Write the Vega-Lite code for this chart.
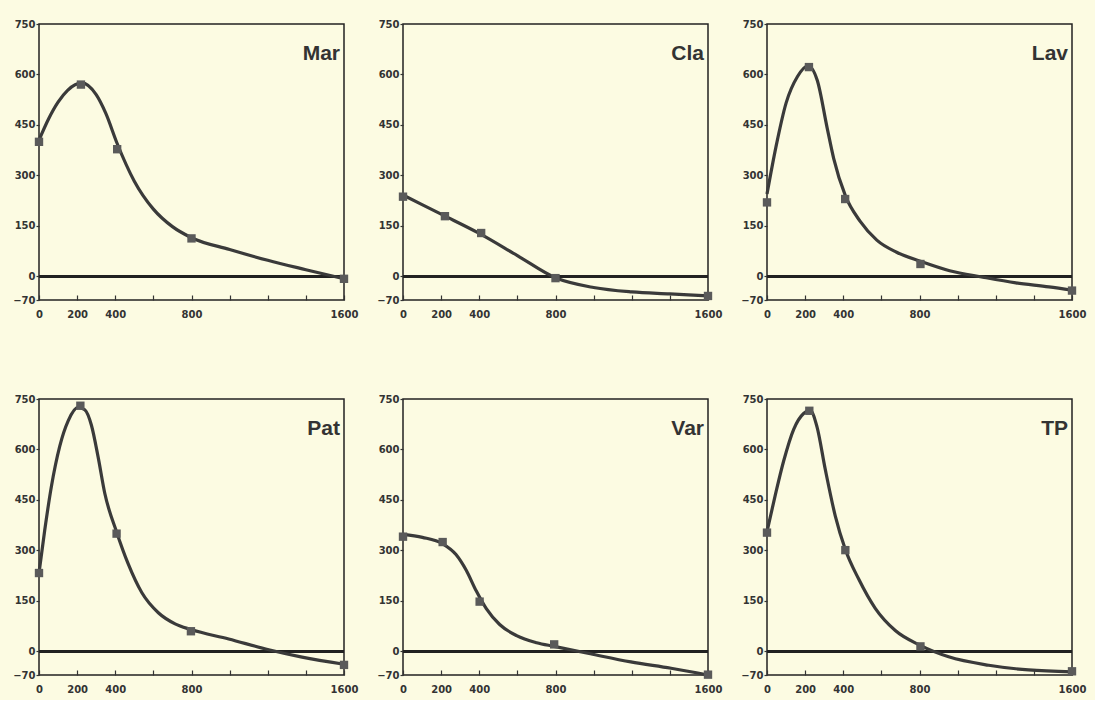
{
  "$schema": "https://vega.github.io/schema/vega-lite/v6.json",
  "background": "#fcfbe2",
  "padding": {"left": 11, "top": 18, "right": 10, "bottom": 5},
  "data": {
    "values": [
      {"panel": "Mar", "kind": "point", "dose": 0, "value": 400},
      {"panel": "Mar", "kind": "point", "dose": 220, "value": 570},
      {"panel": "Mar", "kind": "point", "dose": 410, "value": 378},
      {"panel": "Mar", "kind": "point", "dose": 800, "value": 113},
      {"panel": "Mar", "kind": "point", "dose": 1600, "value": -7},
      {"panel": "Cla", "kind": "point", "dose": 0, "value": 237},
      {"panel": "Cla", "kind": "point", "dose": 220, "value": 179},
      {"panel": "Cla", "kind": "point", "dose": 410, "value": 129},
      {"panel": "Cla", "kind": "point", "dose": 800, "value": -5},
      {"panel": "Cla", "kind": "point", "dose": 1600, "value": -58},
      {"panel": "Lav", "kind": "point", "dose": 0, "value": 220},
      {"panel": "Lav", "kind": "point", "dose": 220, "value": 622},
      {"panel": "Lav", "kind": "point", "dose": 410, "value": 230},
      {"panel": "Lav", "kind": "point", "dose": 805, "value": 37},
      {"panel": "Lav", "kind": "point", "dose": 1600, "value": -42},
      {"panel": "Pat", "kind": "point", "dose": 0, "value": 233},
      {"panel": "Pat", "kind": "point", "dose": 217, "value": 730},
      {"panel": "Pat", "kind": "point", "dose": 407, "value": 350},
      {"panel": "Pat", "kind": "point", "dose": 797, "value": 60},
      {"panel": "Pat", "kind": "point", "dose": 1600, "value": -40},
      {"panel": "Var", "kind": "point", "dose": 0, "value": 341},
      {"panel": "Var", "kind": "point", "dose": 208, "value": 325},
      {"panel": "Var", "kind": "point", "dose": 402, "value": 148},
      {"panel": "Var", "kind": "point", "dose": 793, "value": 21},
      {"panel": "Var", "kind": "point", "dose": 1600, "value": -69},
      {"panel": "TP", "kind": "point", "dose": 0, "value": 353},
      {"panel": "TP", "kind": "point", "dose": 222, "value": 715},
      {"panel": "TP", "kind": "point", "dose": 411, "value": 301},
      {"panel": "TP", "kind": "point", "dose": 805, "value": 15},
      {"panel": "TP", "kind": "point", "dose": 1600, "value": -59},

      {"panel": "Mar", "kind": "fit", "dose": 0, "value": 405},
      {"panel": "Mar", "kind": "fit", "dose": 50, "value": 468},
      {"panel": "Mar", "kind": "fit", "dose": 100, "value": 518},
      {"panel": "Mar", "kind": "fit", "dose": 150, "value": 553},
      {"panel": "Mar", "kind": "fit", "dose": 225, "value": 575},
      {"panel": "Mar", "kind": "fit", "dose": 300, "value": 540},
      {"panel": "Mar", "kind": "fit", "dose": 350, "value": 485},
      {"panel": "Mar", "kind": "fit", "dose": 410, "value": 395},
      {"panel": "Mar", "kind": "fit", "dose": 500, "value": 283},
      {"panel": "Mar", "kind": "fit", "dose": 600, "value": 200},
      {"panel": "Mar", "kind": "fit", "dose": 700, "value": 148},
      {"panel": "Mar", "kind": "fit", "dose": 800, "value": 115},
      {"panel": "Mar", "kind": "fit", "dose": 1000, "value": 80},
      {"panel": "Mar", "kind": "fit", "dose": 1200, "value": 48},
      {"panel": "Mar", "kind": "fit", "dose": 1400, "value": 20},
      {"panel": "Mar", "kind": "fit", "dose": 1600, "value": -7},

      {"panel": "Cla", "kind": "fit", "dose": 0, "value": 242},
      {"panel": "Cla", "kind": "fit", "dose": 200, "value": 185},
      {"panel": "Cla", "kind": "fit", "dose": 400, "value": 128},
      {"panel": "Cla", "kind": "fit", "dose": 600, "value": 62},
      {"panel": "Cla", "kind": "fit", "dose": 800, "value": -4},
      {"panel": "Cla", "kind": "fit", "dose": 1000, "value": -33},
      {"panel": "Cla", "kind": "fit", "dose": 1200, "value": -46},
      {"panel": "Cla", "kind": "fit", "dose": 1400, "value": -52},
      {"panel": "Cla", "kind": "fit", "dose": 1600, "value": -58},

      {"panel": "Lav", "kind": "fit", "dose": 0, "value": 245},
      {"panel": "Lav", "kind": "fit", "dose": 47, "value": 385},
      {"panel": "Lav", "kind": "fit", "dose": 100, "value": 515},
      {"panel": "Lav", "kind": "fit", "dose": 160, "value": 594},
      {"panel": "Lav", "kind": "fit", "dose": 215, "value": 626},
      {"panel": "Lav", "kind": "fit", "dose": 264, "value": 582},
      {"panel": "Lav", "kind": "fit", "dose": 316, "value": 440},
      {"panel": "Lav", "kind": "fit", "dose": 350, "value": 350},
      {"panel": "Lav", "kind": "fit", "dose": 411, "value": 240},
      {"panel": "Lav", "kind": "fit", "dose": 490, "value": 163},
      {"panel": "Lav", "kind": "fit", "dose": 576, "value": 108},
      {"panel": "Lav", "kind": "fit", "dose": 680, "value": 72},
      {"panel": "Lav", "kind": "fit", "dose": 805, "value": 45},
      {"panel": "Lav", "kind": "fit", "dose": 958, "value": 17},
      {"panel": "Lav", "kind": "fit", "dose": 1132, "value": -2},
      {"panel": "Lav", "kind": "fit", "dose": 1306, "value": -19},
      {"panel": "Lav", "kind": "fit", "dose": 1479, "value": -31},
      {"panel": "Lav", "kind": "fit", "dose": 1600, "value": -41},

      {"panel": "Pat", "kind": "fit", "dose": 0, "value": 233},
      {"panel": "Pat", "kind": "fit", "dose": 30, "value": 360},
      {"panel": "Pat", "kind": "fit", "dose": 65, "value": 490},
      {"panel": "Pat", "kind": "fit", "dose": 109, "value": 610},
      {"panel": "Pat", "kind": "fit", "dose": 153, "value": 685},
      {"panel": "Pat", "kind": "fit", "dose": 205, "value": 725},
      {"panel": "Pat", "kind": "fit", "dose": 240, "value": 718},
      {"panel": "Pat", "kind": "fit", "dose": 275, "value": 672},
      {"panel": "Pat", "kind": "fit", "dose": 310, "value": 578},
      {"panel": "Pat", "kind": "fit", "dose": 345, "value": 470},
      {"panel": "Pat", "kind": "fit", "dose": 407, "value": 355},
      {"panel": "Pat", "kind": "fit", "dose": 468, "value": 260},
      {"panel": "Pat", "kind": "fit", "dose": 539, "value": 175},
      {"panel": "Pat", "kind": "fit", "dose": 626, "value": 115},
      {"panel": "Pat", "kind": "fit", "dose": 714, "value": 82},
      {"panel": "Pat", "kind": "fit", "dose": 797, "value": 65},
      {"panel": "Pat", "kind": "fit", "dose": 995, "value": 37},
      {"panel": "Pat", "kind": "fit", "dose": 1205, "value": 5},
      {"panel": "Pat", "kind": "fit", "dose": 1380, "value": -17},
      {"panel": "Pat", "kind": "fit", "dose": 1600, "value": -38},

      {"panel": "Var", "kind": "fit", "dose": 0, "value": 348},
      {"panel": "Var", "kind": "fit", "dose": 102, "value": 339},
      {"panel": "Var", "kind": "fit", "dose": 208, "value": 320},
      {"panel": "Var", "kind": "fit", "dose": 278, "value": 288},
      {"panel": "Var", "kind": "fit", "dose": 331, "value": 242},
      {"panel": "Var", "kind": "fit", "dose": 384, "value": 180},
      {"panel": "Var", "kind": "fit", "dose": 437, "value": 127},
      {"panel": "Var", "kind": "fit", "dose": 507, "value": 80},
      {"panel": "Var", "kind": "fit", "dose": 596, "value": 47},
      {"panel": "Var", "kind": "fit", "dose": 701, "value": 26},
      {"panel": "Var", "kind": "fit", "dose": 793, "value": 15},
      {"panel": "Var", "kind": "fit", "dose": 983, "value": -7},
      {"panel": "Var", "kind": "fit", "dose": 1195, "value": -31},
      {"panel": "Var", "kind": "fit", "dose": 1406, "value": -50},
      {"panel": "Var", "kind": "fit", "dose": 1600, "value": -70},

      {"panel": "TP", "kind": "fit", "dose": 0, "value": 356},
      {"panel": "TP", "kind": "fit", "dose": 44, "value": 466},
      {"panel": "TP", "kind": "fit", "dose": 87, "value": 565},
      {"panel": "TP", "kind": "fit", "dose": 140, "value": 660},
      {"panel": "TP", "kind": "fit", "dose": 192, "value": 707},
      {"panel": "TP", "kind": "fit", "dose": 227, "value": 716},
      {"panel": "TP", "kind": "fit", "dose": 262, "value": 668},
      {"panel": "TP", "kind": "fit", "dose": 306, "value": 540},
      {"panel": "TP", "kind": "fit", "dose": 358, "value": 403},
      {"panel": "TP", "kind": "fit", "dose": 411, "value": 303},
      {"panel": "TP", "kind": "fit", "dose": 481, "value": 215},
      {"panel": "TP", "kind": "fit", "dose": 568, "value": 128},
      {"panel": "TP", "kind": "fit", "dose": 673, "value": 62},
      {"panel": "TP", "kind": "fit", "dose": 804, "value": 18},
      {"panel": "TP", "kind": "fit", "dose": 953, "value": -16},
      {"panel": "TP", "kind": "fit", "dose": 1163, "value": -41},
      {"panel": "TP", "kind": "fit", "dose": 1372, "value": -55},
      {"panel": "TP", "kind": "fit", "dose": 1600, "value": -61}
    ]
  },
  "facet": {
    "field": "panel",
    "type": "nominal",
    "sort": ["Mar", "Cla", "Lav", "Pat", "Var", "TP"],
    "header": {"labels": false, "title": null, "labelExpr": "''", "labelPadding": 0, "labelFontSize": 0}
  },
  "columns": 3,
  "spacing": {"column": 16, "row": 73},
  "resolve": {"axis": {"x": "independent", "y": "independent"}},
  "spec": {
    "width": 305,
    "height": 276,
    "layer": [
      {
        "mark": {"type": "rule", "color": "#222222", "strokeWidth": 1.5},
        "encoding": {"y": {"datum": 0, "type": "quantitative"}}
      },
      {
        "transform": [{"filter": "datum.kind == 'fit'"}],
        "mark": {"type": "line", "interpolate": "monotone", "color": "#3a3a3a", "strokeWidth": 3.2},
        "encoding": {
          "x": {"field": "dose", "type": "quantitative"},
          "y": {"field": "value", "type": "quantitative"}
        }
      },
      {
        "transform": [{"filter": "datum.kind == 'point'"}],
        "mark": {"type": "point", "shape": "square", "filled": true, "size": 70, "color": "#5a5a5a", "opacity": 1},
        "encoding": {
          "x": {"field": "dose", "type": "quantitative"},
          "y": {"field": "value", "type": "quantitative"}
        }
      },
      {
        "transform": [{"filter": "datum.kind == 'point' && datum.dose == 0"}],
        "mark": {"type": "text", "align": "right", "baseline": "middle", "font": "Liberation Sans", "fontWeight": "bold", "fontSize": 21, "color": "#333333", "dx": -4},
        "encoding": {
          "x": {"datum": 1600, "type": "quantitative"},
          "y": {"datum": 660, "type": "quantitative"},
          "text": {"field": "panel"}
        }
      }
    ],
    "encoding": {
      "x": {
        "type": "quantitative",
        "scale": {"domain": [0, 1600], "nice": false, "zero": false},
        "axis": {
          "title": null,
          "values": [0, 200, 400, 600, 800, 1000, 1200, 1400, 1600],
          "format": "d",
          "labelExpr": "indexof([0,200,400,800,1600], datum.value) >= 0 ? datum.label : ''",
          "grid": false,
          "domain": false,
          "tickSize": -5,
          "labelPadding": 14,
          "labelFlush": false
        }
      },
      "y": {
        "type": "quantitative",
        "scale": {"domain": [-70, 750], "nice": false, "zero": false},
        "axis": {
          "title": null,
          "values": [-70, 0, 150, 300, 450, 600, 750],
          "format": "d",
          "grid": false,
          "domain": false,
          "tickSize": 3,
          "labelPadding": 1,
          "labelFlush": false
        }
      }
    }
  },
  "config": {
    "view": {"stroke": "#222222", "strokeWidth": 1.5, "fill": null},
    "header": {"labels": false, "title": null},
    "axis": {
      "labelFont": "DejaVu Sans",
      "labelFontWeight": "bold",
      "labelFontSize": 10,
      "labelColor": "#333333",
      "tickColor": "#333333",
      "tickWidth": 1.2
    }
  }
}
